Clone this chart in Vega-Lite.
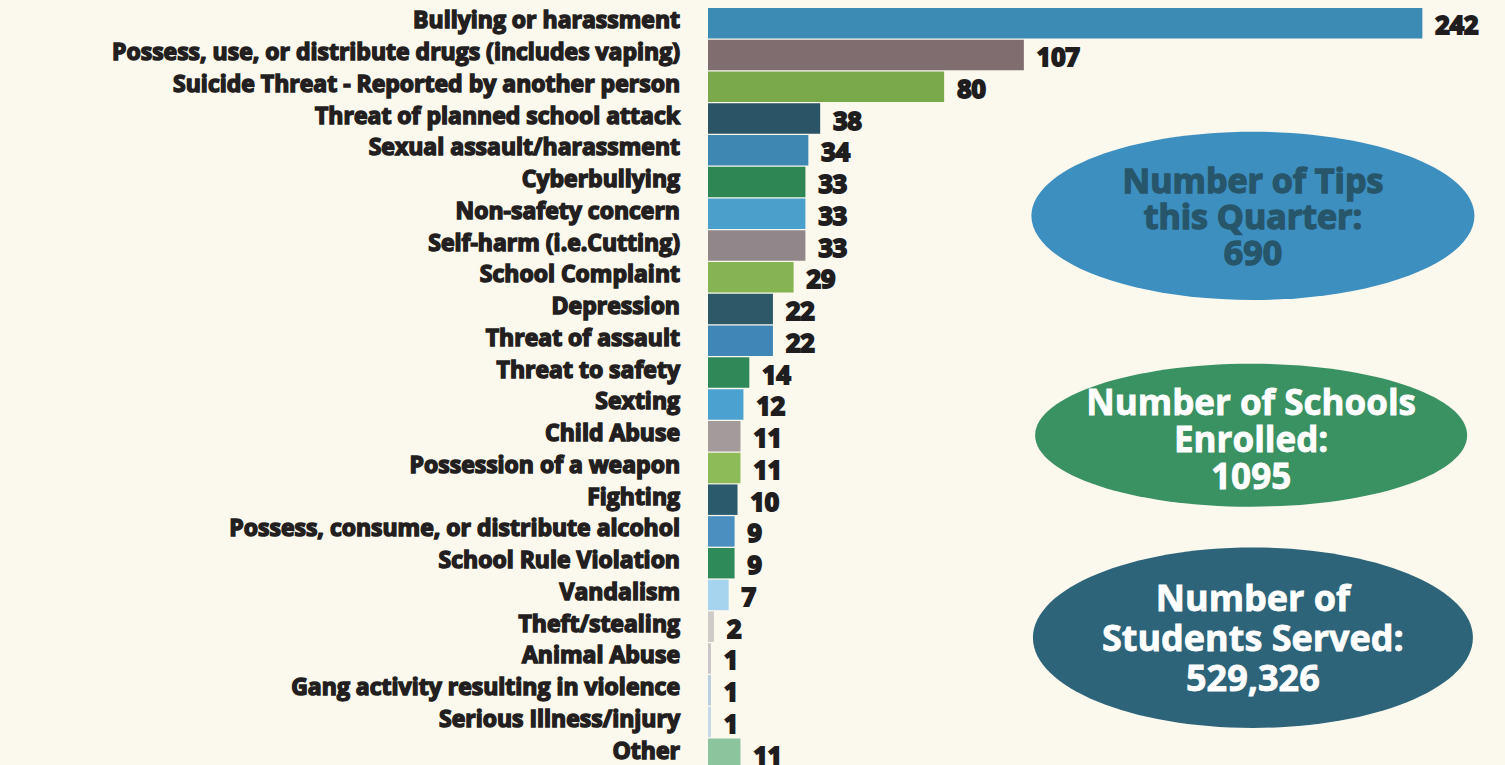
{
  "$schema": "https://vega.github.io/schema/vega-lite/v6.json",
  "autosize": {"type": "none"},
  "padding": {"left": 708, "top": 8, "right": 0, "bottom": 0},
  "width": 797,
  "height": 761,
  "background": "#fbf8ee",
  "config": {"view": {"stroke": null}},
  "datasets": {
    "tips": [
      {"category": "Bullying or harassment", "count": 242},
      {"category": "Possess, use, or distribute drugs (includes vaping)", "count": 107},
      {"category": "Suicide Threat - Reported by another person", "count": 80},
      {"category": "Threat of planned school attack", "count": 38},
      {"category": "Sexual assault/harassment", "count": 34},
      {"category": "Cyberbullying", "count": 33},
      {"category": "Non-safety concern", "count": 33},
      {"category": "Self-harm (i.e.Cutting)", "count": 33},
      {"category": "School Complaint", "count": 29},
      {"category": "Depression", "count": 22},
      {"category": "Threat of assault", "count": 22},
      {"category": "Threat to safety", "count": 14},
      {"category": "Sexting", "count": 12},
      {"category": "Child Abuse", "count": 11},
      {"category": "Possession of a weapon", "count": 11},
      {"category": "Fighting", "count": 10},
      {"category": "Possess, consume, or distribute alcohol", "count": 9},
      {"category": "School Rule Violation", "count": 9},
      {"category": "Vandalism", "count": 7},
      {"category": "Theft/stealing", "count": 2},
      {"category": "Animal Abuse", "count": 1},
      {"category": "Gang activity resulting in violence", "count": 1},
      {"category": "Serious Illness/injury", "count": 1},
      {"category": "Other", "count": 11}
    ],
    "stats": [
      {"stat": "tips", "text": "Number of Tips\nthis Quarter:\n690", "x": 184.6, "category": "Non-safety concern"},
      {"stat": "schools", "text": "Number of Schools\nEnrolled:\n1095", "x": 184.0, "category": "Child Abuse"},
      {"stat": "students", "text": "Number of\nStudents Served:\n529,326", "x": 184.6, "category": "Theft/stealing"}
    ]
  },
  "layer": [
    {
      "data": {"name": "tips"},
      "mark": {"type": "bar", "cornerRadius": 0},
      "encoding": {
        "y": {
          "field": "category",
          "type": "nominal",
          "scale": {
            "domain": ["Bullying or harassment", "Possess, use, or distribute drugs (includes vaping)", "Suicide Threat - Reported by another person", "Threat of planned school attack", "Sexual assault/harassment", "Cyberbullying", "Non-safety concern", "Self-harm (i.e.Cutting)", "School Complaint", "Depression", "Threat of assault", "Threat to safety", "Sexting", "Child Abuse", "Possession of a weapon", "Fighting", "Possess, consume, or distribute alcohol", "School Rule Violation", "Vandalism", "Theft/stealing", "Animal Abuse", "Gang activity resulting in violence", "Serious Illness/injury", "Other"],
            "paddingInner": 0.04,
            "paddingOuter": 0
          },
          "axis": null
        },
        "x": {
          "field": "count",
          "type": "quantitative",
          "scale": {"domain": [0, 270], "nice": false, "zero": true},
          "axis": null
        },
        "color": {
          "field": "category",
          "type": "nominal",
          "legend": null,
          "scale": {
            "domain": ["Bullying or harassment", "Possess, use, or distribute drugs (includes vaping)", "Suicide Threat - Reported by another person", "Threat of planned school attack", "Sexual assault/harassment", "Cyberbullying", "Non-safety concern", "Self-harm (i.e.Cutting)", "School Complaint", "Depression", "Threat of assault", "Threat to safety", "Sexting", "Child Abuse", "Possession of a weapon", "Fighting", "Possess, consume, or distribute alcohol", "School Rule Violation", "Vandalism", "Theft/stealing", "Animal Abuse", "Gang activity resulting in violence", "Serious Illness/injury", "Other"],
            "range": ["#3b8bb4", "#7f6d6f", "#79a94a", "#2b5466", "#3e87b3", "#2f8655", "#4a9fcb", "#918689", "#86b452", "#2c5868", "#4087b8", "#2f8858", "#4ba2d0", "#a29a9b", "#8dbb58", "#2a5a6c", "#4a8fc0", "#2f8a5a", "#a6d3ee", "#cfcaca", "#c9c4c6", "#b9cfe0", "#c5d9e8", "#8cc49e"]
          }
        }
      }
    },
    {
      "data": {"name": "tips"},
      "mark": {"type": "text", "align": "right", "baseline": "middle", "dx": -28, "dy": -2, "font": "Open Sans", "fontWeight": 700, "fontSize": 23, "color": "#231f20", "stroke": "#231f20", "strokeWidth": 1.5},
      "encoding": {
        "y": {"field": "category", "type": "nominal"},
        "x": {"datum": 0, "type": "quantitative"},
        "text": {"field": "category", "type": "nominal"}
      }
    },
    {
      "data": {"name": "tips"},
      "mark": {"type": "text", "align": "left", "baseline": "middle", "dx": 13, "dy": 3, "font": "Open Sans", "fontWeight": 700, "fontSize": 25, "color": "#1f1d1e", "stroke": "#1f1d1e", "strokeWidth": 2},
      "encoding": {
        "y": {"field": "category", "type": "nominal"},
        "x": {"field": "count", "type": "quantitative"},
        "text": {"field": "count", "type": "quantitative"}
      }
    },
    {
      "data": {"name": "stats"},
      "transform": [{"filter": "datum.stat === 'tips'"}],
      "mark": {"type": "point", "filled": true, "opacity": 1, "shape": "M-1,0A1,0.38 0 1,1 1,0A1,0.38 0 1,1 -1,0Z", "size": 196249, "color": "#3d8fc0", "yOffset": 2},
      "encoding": {
        "y": {"field": "category", "type": "nominal"},
        "x": {"field": "x", "type": "quantitative"}
      }
    },
    {
      "data": {"name": "stats"},
      "transform": [{"filter": "datum.stat === 'schools'"}],
      "mark": {"type": "point", "filled": true, "opacity": 1, "shape": "M-1,0A1,0.331 0 1,1 1,0A1,0.331 0 1,1 -1,0Z", "size": 186624, "color": "#3a9162", "yOffset": -1},
      "encoding": {
        "y": {"field": "category", "type": "nominal"},
        "x": {"field": "x", "type": "quantitative"}
      }
    },
    {
      "data": {"name": "stats"},
      "transform": [{"filter": "datum.stat === 'students'"}],
      "mark": {"type": "point", "filled": true, "opacity": 1, "shape": "M-1,0A1,0.41 0 1,1 1,0A1,0.41 0 1,1 -1,0Z", "size": 193600, "color": "#2d6479", "yOffset": 11},
      "encoding": {
        "y": {"field": "category", "type": "nominal"},
        "x": {"field": "x", "type": "quantitative"}
      }
    },
    {
      "data": {"name": "stats"},
      "transform": [{"filter": "datum.stat === 'tips'"}],
      "mark": {"type": "text", "align": "center", "baseline": "middle", "lineBreak": "\n", "lineHeight": 36, "font": "Open Sans", "fontWeight": 700, "fontSize": 34, "color": "#27566b", "stroke": "#27566b", "strokeWidth": 1.4, "yOffset": -31},
      "encoding": {
        "y": {"field": "category", "type": "nominal"},
        "x": {"field": "x", "type": "quantitative"},
        "text": {"field": "text", "type": "nominal"}
      }
    },
    {
      "data": {"name": "stats"},
      "transform": [{"filter": "datum.stat === 'schools'"}],
      "mark": {"type": "text", "align": "center", "baseline": "middle", "lineBreak": "\n", "lineHeight": 37, "font": "Open Sans", "fontWeight": 700, "fontSize": 35, "color": "#ffffff", "stroke": "#ffffff", "strokeWidth": 0.8, "yOffset": -32},
      "encoding": {
        "y": {"field": "category", "type": "nominal"},
        "x": {"field": "x", "type": "quantitative"},
        "text": {"field": "text", "type": "nominal"}
      }
    },
    {
      "data": {"name": "stats"},
      "transform": [{"filter": "datum.stat === 'students'"}],
      "mark": {"type": "text", "align": "center", "baseline": "middle", "lineBreak": "\n", "lineHeight": 40, "font": "Open Sans", "fontWeight": 700, "fontSize": 36, "color": "#ffffff", "stroke": "#ffffff", "strokeWidth": 0.8, "yOffset": -27},
      "encoding": {
        "y": {"field": "category", "type": "nominal"},
        "x": {"field": "x", "type": "quantitative"},
        "text": {"field": "text", "type": "nominal"}
      }
    }
  ]
}
